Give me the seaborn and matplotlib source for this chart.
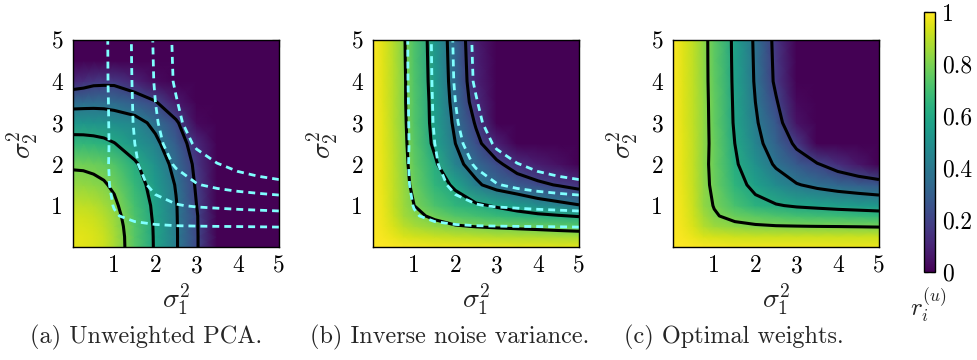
import numpy as np
import matplotlib
matplotlib.use("Agg")
import matplotlib.pyplot as plt
import seaborn as sns

# ---------------- data ----------------
# grid of noise variances (sigma_1^2 along columns, sigma_2^2 along rows)
sigma_grid = [0, 0.25, 0.5, 0.75, 1, 1.5, 2, 2.5, 3, 3.5, 4, 4.5, 5]

# recovery r_i^(u) for (a) unweighted PCA; rows: sigma_2^2 = 0 ... 5
recovery_unweighted = [
    [.960, .957, .945, .920, .870, .735, .585, .415, .215, 0, 0, 0, 0],
    [.957, .955, .943, .918, .868, .733, .584, .415, .215, 0, 0, 0, 0],
    [.945, .943, .932, .905, .858, .728, .582, .414, .213, 0, 0, 0, 0],
    [.930, .928, .917, .890, .845, .715, .575, .412, .212, 0, 0, 0, 0],
    [.905, .903, .893, .867, .825, .700, .570, .410, .200, 0, 0, 0, 0],
    [.840, .837, .827, .812, .780, .665, .545, .390, .180, 0, 0, 0, 0],
    [.785, .783, .775, .758, .730, .620, .500, .350, .160, 0, 0, 0, 0],
    [.660, .658, .650, .635, .605, .520, .435, .290, .120, 0, 0, 0, 0],
    [.520, .520, .515, .505, .490, .460, .360, .225, .020, 0, 0, 0, 0],
    [.340, .345, .350, .350, .340, .290, .210, .070, 0, 0, 0, 0, 0],
    [.110, .130, .160, .165, .165, .100, .030, 0, 0, 0, 0, 0, 0],
    [0, 0, 0, 0, 0, 0, 0, 0, 0, 0, 0, 0, 0],
    [0, 0, 0, 0, 0, 0, 0, 0, 0, 0, 0, 0, 0],
]

# (b) inverse noise variance weights
recovery_inverse = [
    [1.0, 1.0, .995, .990, .985, .980, .975, .970, .965, .960, .960, .955, .955],
    [1.0, .985, .965, .945, .930, .915, .905, .895, .885, .880, .875, .870, .865],
    [1.0, .975, .940, .895, .870, .835, .810, .795, .785, .775, .765, .752, .740],
    [1.0, .970, .920, .860, .825, .780, .730, .700, .675, .650, .630, .610, .590],
    [1.0, .965, .910, .850, .800, .715, .655, .625, .585, .545, .490, .450, .410],
    [1.0, .960, .905, .840, .770, .655, .580, .425, .340, .285, .230, .190, .145],
    [1.0, .960, .900, .830, .755, .625, .440, .340, .230, .130, .080, .040, 0],
    [1.0, .955, .895, .825, .740, .570, .400, .240, .090, 0, 0, 0, 0],
    [1.0, .955, .890, .820, .730, .555, .370, .185, 0, 0, 0, 0, 0],
    [1.0, .950, .890, .815, .728, .550, .345, .130, 0, 0, 0, 0, 0],
    [1.0, .950, .890, .815, .725, .540, .330, .100, 0, 0, 0, 0, 0],
    [1.0, .950, .887, .812, .722, .535, .322, .090, 0, 0, 0, 0, 0],
    [1.0, .950, .885, .810, .720, .530, .315, .080, 0, 0, 0, 0, 0],
]

# (c) optimal weights
recovery_optimal = [
    [1.0, 1.0, .995, .990, .985, .980, .980, .975, .975, .975, .970, .970, .970],
    [1.0, .985, .965, .945, .935, .925, .920, .920, .920, .920, .920, .920, .920],
    [1.0, .975, .940, .885, .855, .825, .812, .805, .802, .799, .797, .794, .790],
    [1.0, .970, .925, .860, .810, .770, .745, .720, .700, .690, .680, .670, .660],
    [1.0, .965, .915, .835, .795, .710, .640, .610, .585, .570, .555, .545, .535],
    [1.0, .960, .910, .830, .775, .650, .565, .480, .410, .365, .330, .300, .270],
    [1.0, .955, .905, .825, .770, .620, .500, .380, .280, .210, .130, .060, 0],
    [1.0, .955, .905, .830, .770, .600, .450, .315, .170, 0, 0, 0, 0],
    [1.0, .950, .900, .835, .760, .585, .420, .270, .050, 0, 0, 0, 0],
    [1.0, .950, .900, .833, .758, .580, .400, .215, .020, 0, 0, 0, 0],
    [1.0, .950, .900, .830, .755, .575, .385, .170, 0, 0, 0, 0, 0],
    [1.0, .950, .900, .830, .752, .572, .380, .162, 0, 0, 0, 0, 0],
    [1.0, .950, .900, .830, .750, .570, .375, .155, 0, 0, 0, 0, 0],
]

contour_levels = [0.2, 0.4, 0.6, 0.8]
axis_ticks = [1, 2, 3, 4, 5]
axis_ticklabels = ["1", "2", "3", "4", "5"]
cbar_ticks = [0, 0.2, 0.4, 0.6, 0.8, 1]
cbar_ticklabels = ["0", "0.2", "0.4", "0.6", "0.8", "1"]
captions = ["(a) Unweighted PCA.", "(b) Inverse noise variance.", "(c) Optimal weights."]

# ---------------- style ----------------
sns.set_theme(style="white")
plt.rcParams["font.family"] = ["cmr10", "DejaVu Serif"]
plt.rcParams["mathtext.fontset"] = "cm"
plt.rcParams["axes.formatter.use_mathtext"] = True
plt.rcParams["axes.unicode_minus"] = False
cmap = sns.color_palette("viridis", as_cmap=True)

W, H = 978, 360
fig = plt.figure(figsize=(W / 100, H / 100), dpi=100)
fig.patch.set_facecolor("white")


def fx(px):
    return px / W


def fy(py):
    return 1 - py / H


X, Y = np.meshgrid(np.array(sigma_grid, dtype=float), np.array(sigma_grid, dtype=float))
Z_opt = np.array(recovery_optimal)
fields = [np.array(recovery_unweighted), np.array(recovery_inverse), Z_opt]
lefts = [73, 373, 673]
caption_x = [146, 450, 734]
ax_top, ax_bottom, ax_w = 40, 247, 206

tick_grey = "#8a8a8a"
mesh = None
for k, Z in enumerate(fields):
    left = lefts[k]
    ax = fig.add_axes([fx(left), fy(ax_bottom), fx(ax_w), (ax_bottom - ax_top) / H])
    mesh = ax.pcolormesh(X, Y, Z, shading="gouraud", cmap=cmap, vmin=0, vmax=1)
    ax.contour(X, Y, Z, levels=contour_levels, colors="black", linewidths=2.2)
    if k < 2:
        ax.contour(X, Y, Z_opt, levels=contour_levels, colors="#80ffff",
                   linewidths=2.0, linestyles=[(0, (2.5, 1.8))] * 4)
    ax.set_xlim(0, 5)
    ax.set_ylim(0, 5)
    ax.set_xticks(axis_ticks)
    ax.set_xticklabels(axis_ticklabels)
    ax.set_yticks(axis_ticks)
    ax.set_yticklabels(axis_ticklabels)
    ax.tick_params(direction="in", length=5, width=1.0, color=tick_grey,
                   top=True, right=True, labelsize=17, pad=6, labelcolor="black")
    ax.tick_params(axis="y", pad=7)
    for sp in ax.spines.values():
        sp.set_color("black")
        sp.set_linewidth(1.0)
        sp.set_visible(True)
    ax.grid(False)
    cx = left + ax_w / 2
    fig.text(fx(cx), fy(299), r"$\sigma_1^2$", ha="center", va="center", fontsize=20)
    fig.text(fx(left - 51), fy(145), r"$\sigma_2^2$", ha="center", va="center",
             fontsize=20, rotation=90)
    fig.text(fx(caption_x[k]), fy(337), captions[k], ha="center", va="center",
             fontsize=17.5)

cax = fig.add_axes([fx(924), fy(272), fx(11), (272 - 12) / H])
cb = fig.colorbar(mesh, cax=cax, ticks=cbar_ticks)
cb.set_ticklabels(cbar_ticklabels)
cb.outline.set_edgecolor("black")
cb.outline.set_linewidth(1.0)
cax.tick_params(direction="in", length=3, width=1.0, color=tick_grey,
                labelsize=17, pad=5, left=True, right=True, labelcolor="black")
fig.text(fx(928), fy(306), r"$r_i^{(u)}$", ha="center", va="center", fontsize=18)

fig.savefig("out.png", dpi=100, facecolor="white")
